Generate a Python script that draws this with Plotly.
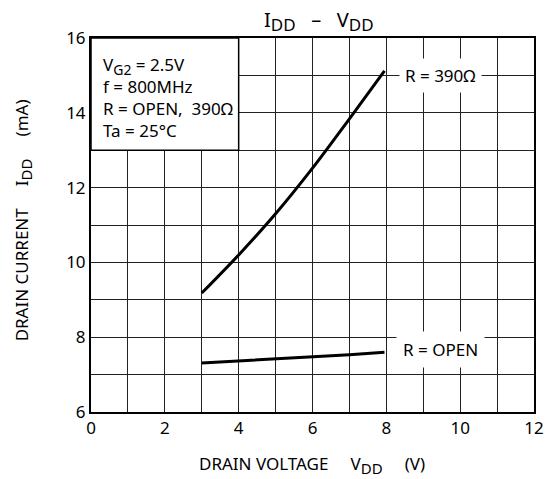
import plotly.graph_objects as go

# Data
vdd_390 = [3, 4, 5, 6, 7, 7.95]
idd_390 = [9.18, 10.2, 11.3, 12.52, 13.84, 15.12]
vdd_open = [3, 4, 5, 6, 7, 7.95]
idd_open = [7.31, 7.36, 7.41, 7.47, 7.53, 7.6]

x_ticks = [0, 2, 4, 6, 8, 10, 12]
y_ticks = [6, 8, 10, 12, 14, 16]

FONT = "Noto Sans"

fig = go.Figure()
fig.add_trace(go.Scatter(x=vdd_390, y=idd_390, mode="lines",
                         line=dict(color="black", width=3, shape="spline", smoothing=1.0),
                         showlegend=False))
fig.add_trace(go.Scatter(x=vdd_open, y=idd_open, mode="lines", line=dict(color="black", width=3),
                         showlegend=False))

axis_common = dict(showline=True, mirror=True, linecolor="black", linewidth=2,
                   showgrid=True, gridcolor="#222", gridwidth=1, zeroline=False,
                   ticks="", tickfont=dict(family=FONT, size=17, color="black"))

fig.update_xaxes(range=[0, 12], tickvals=x_ticks, ticktext=[str(v) for v in x_ticks],
                 minor=dict(dtick=1, showgrid=True, gridcolor="#222", gridwidth=1, ticks=""),
                 **axis_common)
fig.update_yaxes(range=[6, 16], tickvals=y_ticks, ticktext=[str(v) for v in y_ticks],
                 minor=dict(dtick=1, showgrid=True, gridcolor="#222", gridwidth=1, ticks=""),
                 **axis_common)

# Condition box
fig.add_shape(type="rect", x0=0, x1=4, y0=13, y1=16, xref="x", yref="y",
              fillcolor="white", line=dict(color="black", width=1.5), layer="above")

SUB = '<sub><span style="font-size:{}px">{}</span></sub>'

annotations = [
    dict(x=0.26, y=15.66, xref="x", yref="y", xanchor="left", yanchor="top", align="left",
         text="V" + SUB.format(14, "G2") + " = 2.5V<br>f = 800MHz<br>R = OPEN,  390Ω<br>Ta = 25°C",
         showarrow=False, font=dict(family=FONT, size=17, color="black")),
    dict(x=9.46, y=15.0, xref="x", yref="y", text="R = 390Ω", showarrow=False,
         bgcolor="white", borderpad=5, font=dict(family=FONT, size=17, color="black")),
    dict(x=9.46, y=7.66, xref="x", yref="y", text="R = OPEN", showarrow=False,
         bgcolor="white", borderpad=6, font=dict(family=FONT, size=17, color="black")),
    dict(px=324, py=21, text="I" + SUB.format(17, "DD") + "   –   V" + SUB.format(17, "DD"),
         font=dict(family=FONT, size=20, color="black")),
    dict(px=316, py=465, text="DRAIN VOLTAGE     V" + SUB.format(15, "DD") + "     (V)",
         font=dict(family=FONT, size=17, color="black")),
    dict(px=22, py=220, text="DRAIN CURRENT     I" + SUB.format(15, "DD") + "     (mA)",
         textangle=-90, font=dict(family=FONT, size=17, color="black")),
]

# Page is offset by the default 8px body margin
OFF = 8
W, H = 556 - OFF, 479 - OFF
ml, mr, mt, mb = 91 - OFF, 13, 38 - OFF, 67
pw, ph = W - ml - mr, H - mt - mb
for a in annotations:
    if "px" in a:
        px, py = a.pop("px"), a.pop("py")
        a["xref"] = "paper"
        a["yref"] = "paper"
        a["x"] = (px - OFF - ml) / pw
        a["y"] = (H - (py - OFF) - mb) / ph
        a["xanchor"] = "center"
        a["yanchor"] = "middle"
        a["showarrow"] = False

fig.update_layout(width=W, height=H, margin=dict(l=ml, r=mr, t=mt, b=mb),
                  plot_bgcolor="white", paper_bgcolor="white",
                  annotations=annotations, showlegend=False)

fig.write_html("out.html")
